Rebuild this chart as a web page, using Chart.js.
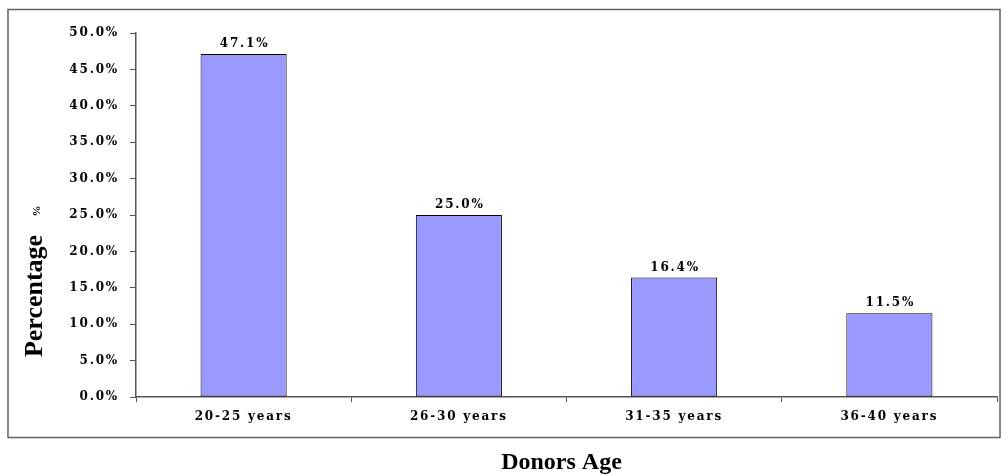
<!DOCTYPE html>
<html>
<head>
<meta charset="utf-8">
<script src="https://cdn.jsdelivr.net/npm/chart.js@4"></script>
<style>
  html, body { margin: 0; padding: 0; background: #fff; }
  #wrap { width: 1006px; height: 475px; position: relative; }
</style>
</head>
<body>
<div id="wrap"><canvas id="ageChart"></canvas></div>
<script>
const ageGroups = ['20-25 years', '26-30 years', '31-35 years', '36-40 years'];
const donorPct = [47.1, 25.0, 16.4, 11.5];
const yTitle = 'Percentage';
const yUnit = '%';
const xTitle = 'Donors Age';

const tickFont = { family: '"DejaVu Serif"', size: 12, weight: 'bold' };
const spacing = '1.8px';

// outer frame, letter-spaced labels, titles and value labels
const decor = {
  id: 'decor',
  beforeDraw(chart) {
    const ctx = chart.ctx;
    ctx.save();
    ctx.strokeStyle = '#606060';
    ctx.lineWidth = 1.5;
    ctx.strokeRect(8, 9.5, 992, 428);
    ctx.restore();
    ctx.letterSpacing = spacing;
  },
  afterDatasetsDraw(chart) {
    const ctx = chart.ctx;
    const meta = chart.getDatasetMeta(0);
    ctx.save();
    ctx.letterSpacing = spacing;
    ctx.font = `bold ${tickFont.size}px ${tickFont.family}`;
    ctx.fillStyle = '#000';
    ctx.textAlign = 'center';
    ctx.textBaseline = 'bottom';
    meta.data.forEach((bar, i) => {
      ctx.fillText(donorPct[i].toFixed(1) + '%', bar.x + 1, bar.y - 4);
    });
    ctx.restore();
  },
  afterDraw(chart) {
    const ctx = chart.ctx;
    const area = chart.chartArea;
    ctx.save();
    ctx.letterSpacing = '0px';
    ctx.fillStyle = '#000';
    ctx.textAlign = 'center';
    ctx.textBaseline = 'middle';
    ctx.font = 'bold 24px "Liberation Serif"';
    ctx.fillText(xTitle, (area.left + area.right) / 2 - 5, 463);

    ctx.translate(area.left - 101, area.top + 263);
    ctx.rotate(-Math.PI / 2);
    ctx.font = 'bold 26px "Liberation Serif"';
    ctx.fillText(yTitle, 0, 0);
    ctx.font = 'bold 11px "Liberation Serif"';
    ctx.fillText(yUnit, 85, 2);
    ctx.restore();
  }
};

new Chart(document.getElementById('ageChart'), {
  type: 'bar',
  data: {
    labels: ageGroups,
    datasets: [{
      data: donorPct,
      backgroundColor: '#9999ff',
      borderColor: '#000',
      borderWidth: 1,
      borderSkipped: false,
      categoryPercentage: 1,
      barPercentage: 0.4
    }]
  },
  options: {
    responsive: true,
    maintainAspectRatio: false,
    animation: false,
    layout: { padding: { left: 0, top: 33, right: 9, bottom: 0 } },
    plugins: { legend: { display: false }, tooltip: { enabled: false } },
    scales: {
      x: {
        grid: { drawOnChartArea: false, drawTicks: true, tickLength: 5, color: '#555' },
        border: { color: '#555', width: 1.5 },
        ticks: { font: tickFont, color: '#000', padding: 8, maxRotation: 0 },
        afterFit(scale) { scale.height = 78; }
      },
      y: {
        min: 0,
        max: 50,
        grid: { drawOnChartArea: false, drawTicks: true, tickLength: 6, color: '#555' },
        border: { color: '#555', width: 1.5 },
        ticks: {
          stepSize: 5,
          font: tickFont,
          color: '#000',
          padding: 11,
          callback: v => v.toFixed(1) + '%'
        },
        afterFit(scale) { scale.width = 136; }
      }
    }
  },
  plugins: [decor]
});
</script>
</body>
</html>
